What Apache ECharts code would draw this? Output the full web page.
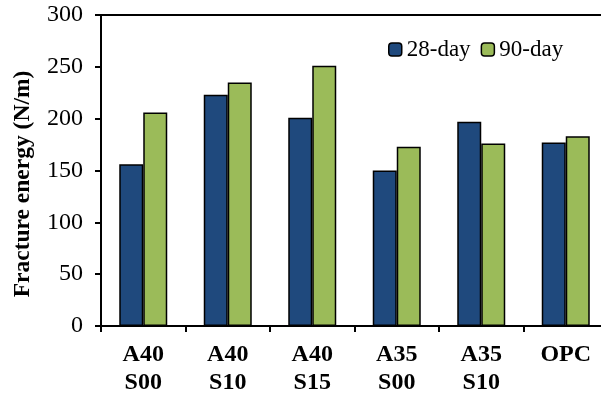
<!DOCTYPE html>
<html><head><meta charset="utf-8">
<script src="https://cdn.jsdelivr.net/npm/echarts@6/dist/echarts.min.js"></script>
<style>html,body{margin:0;padding:0;background:#fff}#c{width:601px;height:398px}</style>
</head><body><div id="c"></div>
<script>
const categories = ['A40\nS00','A40\nS10','A40\nS15','A35\nS00','A35\nS10','OPC'];
const day28 = [156, 223, 201, 150, 197, 177];
const day90 = [206, 235, 251, 173, 176, 183];
const yTicks = [0, 50, 100, 150, 200, 250, 300];
const FONT = '"Liberation Serif", "Times New Roman", serif';
const chart = echarts.init(document.getElementById('c'), null, {renderer:'canvas'});
chart.setOption({
  animation:false,
  grid:{left:101, width:507, top:15, height:311, outerBoundsMode:'none', containLabel:false,
    show:true, borderColor:'#000', borderWidth:2, backgroundColor:'transparent'},
  legend:{left:388, top:38, padding:0, itemWidth:13, itemHeight:13, itemGap:10,
    textStyle:{fontFamily:FONT, fontSize:23, color:'#000'},
    itemStyle:{borderColor:'#000', borderWidth:1.5},
    data:['28-day','90-day']},
  xAxis:{type:'category', data:categories,
    axisLine:{lineStyle:{color:'#000', width:2}},
    axisTick:{show:true, length:6, lineStyle:{color:'#000', width:2}},
    axisLabel:{fontFamily:FONT, fontSize:24, fontWeight:'bold', color:'#000', lineHeight:28, margin:15}},
  yAxis:{type:'value', min:yTicks[0], max:yTicks[yTicks.length-1], interval:50,
    name:'Fracture energy (N/m)', nameLocation:'middle', nameGap:66,
    nameTextStyle:{fontFamily:FONT, fontSize:23.5, fontWeight:'bold', color:'#000', padding:[0,27,0,0]},
    axisLine:{show:true, lineStyle:{color:'#000', width:2}},
    axisTick:{show:true, inside:false, length:6, lineStyle:{color:'#000', width:2}},
    axisLabel:{fontFamily:FONT, fontSize:24, color:'#000', margin:18},
    splitLine:{show:false}},
  series:[
    {name:'28-day', type:'bar', data:day28, barWidth:24, barGap:'0%',
     itemStyle:{color:'#1F497D', borderColor:'#000', borderWidth:1.5}},
    {name:'90-day', type:'bar', data:day90, barWidth:24, barGap:'0%',
     itemStyle:{color:'#9BBB59', borderColor:'#000', borderWidth:1.5}}
  ]
});
</script></body></html>
